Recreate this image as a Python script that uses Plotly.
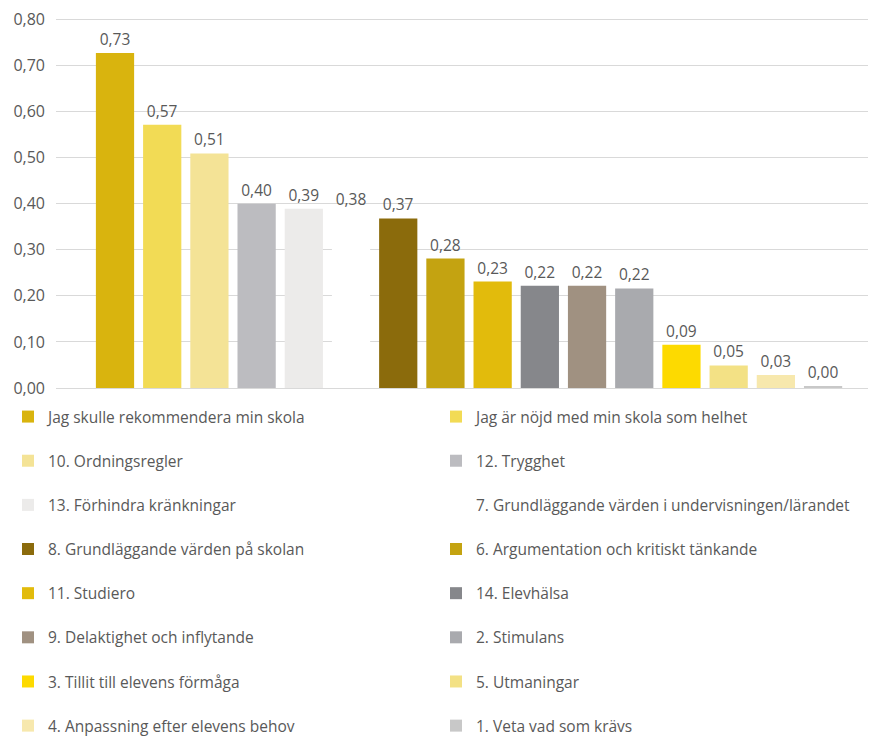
import plotly.graph_objects as go

names = [
    "Jag skulle rekommendera min skola",
    "Jag är nöjd med min skola som helhet",
    "10. Ordningsregler",
    "12. Trygghet",
    "13. Förhindra kränkningar",
    "7. Grundläggande värden i undervisningen/lärandet",
    "8. Grundläggande värden på skolan",
    "6. Argumentation och kritiskt tänkande",
    "11. Studiero",
    "14. Elevhälsa",
    "9. Delaktighet och inflytande",
    "2. Stimulans",
    "3. Tillit till elevens förmåga",
    "5. Utmaningar",
    "4. Anpassning efter elevens behov",
    "1. Veta vad som krävs",
]
values = [0.727, 0.571, 0.509, 0.400, 0.389, 0.380, 0.368, 0.281,
          0.231, 0.222, 0.222, 0.216, 0.094, 0.049, 0.028, 0.003]
colors = ["#D9B40E", "#F2DB55", "#F4E396", "#BCBCC0", "#ECEBEA", "#FFFFFF",
          "#8B6B0C", "#C4A311", "#E2BB0C", "#86878B", "#A09181", "#A9AAAE",
          "#FDDA00", "#F3E185", "#F7E8AD", "#C8C8C8"]
y_ticks = [0, 0.1, 0.2, 0.3, 0.4, 0.5, 0.6, 0.7, 0.8]

FONT = "Open Sans"
TXT = "#595959"
W, H = 868, 729  # page body has an 8px margin

fig = go.Figure()
for i, (n, v, c) in enumerate(zip(names, values, colors)):
    fig.add_trace(go.Bar(
        x=[i], y=[v], name=n, width=0.81,
        marker=dict(color=c, line=dict(width=0)),
        text=[v], texttemplate="%{y:.2f}", textposition="outside",
        textfont=dict(family=FONT, size=15.5, color=TXT),
        cliponaxis=False,
        legend="legend" if i % 2 == 0 else "legend2",
        legendgroup=f"g{i}",
        hoverinfo="skip",
    ))

legend_common = dict(
    orientation="v", yref="container", xref="container",
    yanchor="top", xanchor="left",
    font=dict(family=FONT, size=15.5, color=TXT),
    tracegroupgap=21, bgcolor="rgba(0,0,0,0)",
    traceorder="grouped",
)

fig.update_layout(
    width=W, height=H,
    margin=dict(l=48, r=1, t=8.7, b=349, autoexpand=False),
    paper_bgcolor="white", plot_bgcolor="white",
    separators=", ",
    barmode="overlay",
    showlegend=True,
    font=dict(family=FONT, color=TXT),
    xaxis=dict(range=[-1.25, 16.1], showticklabels=False, showgrid=False,
               zeroline=False, showline=False, fixedrange=True),
    yaxis=dict(range=[0, 0.805], tickvals=y_ticks, tickformat=".2f",
               showgrid=True, gridcolor="#D9D9D9", gridwidth=1,
               zeroline=True, zerolinecolor="#D9D9D9", zerolinewidth=1,
               showline=False, ticks="", ticklabelstandoff=10,
               ticklabeloverflow="allow",
               tickfont=dict(family=FONT, size=16, color=TXT)),
    legend=dict(x=0, y=1 - 392/H, **legend_common),
    legend2=dict(x=428/W, y=1 - 392/H, **legend_common),
)

fig.write_html("out.html")
